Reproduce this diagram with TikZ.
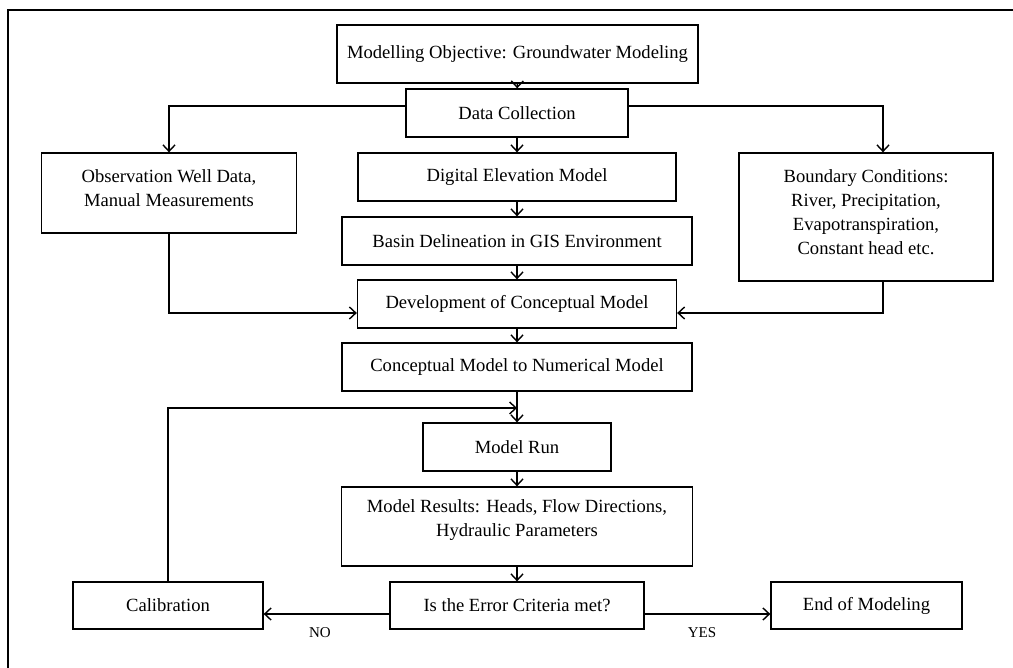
\documentclass[tikz,border=0pt]{standalone}
\usepackage{fontspec}
\setmainfont{Liberation Serif}
\usetikzlibrary{arrows.meta}
\begin{document}
\begin{tikzpicture}[x=0.5pt,y=-0.5pt,
 box/.style={draw,line width=0.65pt,align=center,inner sep=0pt,font=\fontsize{9.3}{12}\selectfont},
 txt/.style={align=center,inner sep=0pt,font=\fontsize{9.3}{12}\selectfont},
 arr/.style={line width=0.65pt,-{Straight Barb[length=3.2pt,width=6pt,line width=0.7pt]}},
 lbl/.style={font=\fontsize{7.5}{9}\selectfont,inner sep=0pt}]
\useasboundingbox (0,0) rectangle (1013,668);
\draw[line width=1pt] (8,668) -- (8,10) -- (1013,10);

\node[box,minimum width=180.5pt,minimum height=29pt] (obj) at (517.5,54) {Modelling Objective: Groundwater Modeling};
\node[box,minimum width=111pt,minimum height=24pt] (dc) at (517,113) {Data Collection};
\node[box,minimum width=127.5pt,minimum height=40pt] (obs) at (169,193) {};
\node[txt] (obst) at (169,188) {Observation Well Data,\\Manual Measurements};
\node[box,minimum width=159pt,minimum height=24pt] (dem) at (517,177) {Digital Elevation Model};
\node[box,minimum width=127pt,minimum height=64pt] (bnd) at (866,217) {};
\node[txt] (bndt) at (866,212) {Boundary Conditions:\\River, Precipitation,\\Evapotranspiration,\\Constant head etc.};
\node[box,minimum width=175pt,minimum height=24pt] (basin) at (517,241) {Basin Delineation in GIS Environment};
\node[box,minimum width=159.5pt,minimum height=24pt] (dev) at (517,304) {Development of Conceptual Model};
\node[box,minimum width=175pt,minimum height=24pt] (conv) at (517,367) {Conceptual Model to Numerical Model};
\node[box,minimum width=94pt,minimum height=24pt] (run) at (517,447) {Model Run};
\node[box,minimum width=175.5pt,minimum height=39.5pt] (res) at (517,526.5) {};
\node[txt] (rest) at (517,520.5) {Model Results: Heads, Flow Directions,\\Hydraulic Parameters};
\node[box,minimum width=127pt,minimum height=23.5pt] (err) at (517,605.5) {Is the Error Criteria met?};
\node[box,minimum width=95pt,minimum height=23.5pt] (cal) at (168,605.5) {Calibration};
\node[box,minimum width=95.5pt,minimum height=23.5pt] (end) at (866.5,605.5) {End of Modeling};
\coordinate (fb) at (517,408);

\draw[arr] (obj) -- (dc);
\draw[arr] ([yshift=3.5pt]dc.west) -| (obs.north);
\draw[arr] ([yshift=3.5pt]dc.east) -| ([xshift=8.5pt]bnd.north);
\draw[arr] (dc) -- (dem);
\draw[arr] (dem) -- (basin);
\draw[arr] (basin) -- (dev);
\draw[arr] (obs.south) |- ([yshift=-4.5pt]dev.west);
\draw[arr] ([xshift=8.5pt]bnd.south) |- ([yshift=-4.5pt]dev.east);
\draw[arr] (dev) -- (conv);
\draw[arr] (conv) -- (run);
\draw[arr] (cal.north) |- (fb);
\draw[arr] (run) -- (res);
\draw[arr] (res) -- (err);
\draw[arr] ([yshift=-4.25pt]err.west) -- ([yshift=-4.25pt]cal.east);
\draw[arr] ([yshift=-4.25pt]err.east) -- ([yshift=-4.25pt]end.west);
\node[lbl] (no) at (320,633) {NO};
\node[lbl] (yes) at (702,633) {YES};
\end{tikzpicture}
\end{document}
